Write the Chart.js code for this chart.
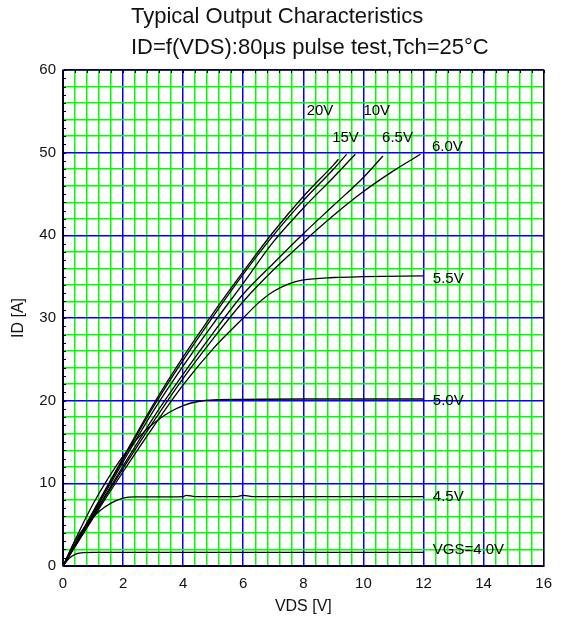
<!DOCTYPE html>
<html>
<head>
<meta charset="utf-8">
<script src="https://cdn.jsdelivr.net/npm/chart.js@4.4.1/dist/chart.umd.min.js"></script>
<style>
  html, body { margin: 0; padding: 0; background: #fff; }
  #wrap { width: 561px; height: 620px; }
</style>
</head>
<body>
<div id="wrap"><canvas id="myChart"></canvas></div>
<script>
// VDS in V, ID in A
const vds20 = [0, 1, 2, 3, 4, 5, 6, 7, 8, 9, 9.17];
const id20  = [0, 6.6, 13.1, 19.5, 25.3, 30.6, 35.6, 40.4, 44.7, 48.5, 49.2];
const vds15 = [0, 1, 2, 3, 4, 5, 6, 7, 8, 9, 9.44];
const id15  = [0, 6.5, 12.9, 19.2, 24.9, 30.2, 35.3, 40.0, 44.2, 48.0, 49.8];
const vds10 = [0, 1, 2, 3, 4, 5, 6, 7, 8, 9, 9.73];
const id10  = [0, 6.3, 12.6, 18.7, 24.2, 29.3, 34.2, 39.2, 43.3, 47.0, 49.8];
const vds65 = [0, 1, 2, 3, 4, 5, 6, 7, 8, 9, 10, 10.65];
const id65  = [0, 6.1, 12.1, 17.9, 23.2, 28.2, 32.9, 36.6, 40.2, 43.6, 47.0, 49.6];
const vds60 = [0, 1, 2, 3, 4, 5, 6, 7, 8, 9, 10, 11, 11.9];
const id60  = [0, 6.0, 11.8, 17.4, 22.7, 27.5, 32.0, 35.8, 39.2, 42.4, 45.3, 47.8, 49.8];
const vds55 = [0, 1, 2, 3, 4, 5, 6, 6.5, 7, 7.5, 8, 9, 10, 12];
const id55  = [0, 5.8, 11.4, 16.8, 21.9, 26.3, 30.0, 31.8, 33.2, 34.1, 34.6, 34.9, 35.0, 35.1];
const vds50 = [0, 0.5, 1, 1.5, 2, 2.5, 3, 3.5, 4, 4.5, 5, 6, 8, 12];
const id50  = [0, 3.9, 7.5, 10.6, 13.3, 15.5, 17.2, 18.5, 19.4, 19.9, 20.1, 20.15, 20.2, 20.2];
const vds45 = [0, 0.4, 0.8, 1.2, 1.6, 2, 2.4, 4, 4.1, 4.4, 5.8, 6, 6.3, 12];
const id45  = [0, 3.0, 5.1, 6.6, 7.6, 8.2, 8.35, 8.4, 8.55, 8.4, 8.4, 8.55, 8.4, 8.4];
const vds40 = [0, 0.2, 0.4, 0.6, 1, 12];
const id40  = [0, 0.9, 1.4, 1.6, 1.65, 1.65];

const curveNames = ['20V', '15V', '10V', '6.5V', '6.0V', '5.5V', '5.0V', '4.5V', 'VGS=4.0V'];
const curveVds = [vds20, vds15, vds10, vds65, vds60, vds55, vds50, vds45, vds40];
const curveId  = [id20, id15, id10, id65, id60, id55, id50, id45, id40];

// where each curve name is written (data coords, left edge / middle)
const labelVds = [8.11, 10.0, 8.96, 10.62, 12.28, 12.31, 12.31, 12.31, 12.31];
const labelId  = [55.1, 55.1, 51.8, 51.8, 50.7, 34.7, 19.95, 8.4, 1.9];
const labelText = ['20V', '10V', '15V', '6.5V', '6.0V', '5.5V', '5.0V', '4.5V', 'VGS=4.0V'];

const titleLines = ['Typical Output Characteristics', 'ID=f(VDS):80\u03bcs pulse test,Tch=25\u00b0C'];

const FONT = '"Liberation Sans", Arial, sans-serif';

function isMultiple(v, step) {
  return Math.abs(v / step - Math.round(v / step)) < 1e-6;
}

const datasets = curveNames.map((name, i) => ({
  label: name,
  data: curveVds[i].map((v, j) => ({ x: v, y: curveId[i][j] })),
  borderColor: '#000',
  borderWidth: 1.3,
  pointRadius: 0,
  fill: false,
  cubicInterpolationMode: 'monotone'
}));

const extras = {
  id: 'extras',
  afterDatasetsDraw(chart) {
    const ctx = chart.ctx;
    const xs = chart.scales.x, ys = chart.scales.y;
    const a = chart.chartArea;
    ctx.save();
    // small inward tick marks on left and top edges
    ctx.strokeStyle = '#000';
    ctx.lineWidth = 1;
    ctx.beginPath();
    for (let v = 0; v <= 60; v += 1) {
      const y = Math.round(ys.getPixelForValue(v)) + 0.5;
      ctx.moveTo(a.left, y); ctx.lineTo(a.left + 3, y);
    }
    for (let k = 0; k <= 40; k++) {
      const x = Math.round(xs.getPixelForValue(k * 0.4)) + 0.5;
      ctx.moveTo(x, a.top); ctx.lineTo(x, a.top + 3);
    }
    ctx.stroke();
    // frame
    ctx.lineWidth = 1.3;
    ctx.strokeRect(a.left, a.top, a.right - a.left, a.bottom - a.top);
    // curve names
    ctx.fillStyle = '#000';
    ctx.font = '15px ' + FONT;
    ctx.textAlign = 'left';
    ctx.textBaseline = 'middle';
    labelText.forEach((t, i) => {
      ctx.fillText(t, xs.getPixelForValue(labelVds[i]), ys.getPixelForValue(labelId[i]));
    });
    // two line heading
    ctx.font = '22px ' + FONT;
    ctx.fillStyle = '#111';
    ctx.fillText(titleLines[0], 131, 17);
    ctx.fillText(titleLines[1], 131, 47.5);
    ctx.restore();
  }
};

const config = {
  type: 'line',
  data: { datasets: datasets },
  options: {
    responsive: true,
    maintainAspectRatio: false,
    animation: false,
    layout: { padding: { left: 0, right: 7, top: 70, bottom: 0 } },
    plugins: {
      legend: { display: false },
      tooltip: { enabled: false }
    },
    scales: {
      x: {
        type: 'linear',
        min: 0,
        max: 16,
        afterFit: (s) => { s.height = 54; },
        ticks: {
          stepSize: 0.4,
          autoSkip: false,
          maxRotation: 0,
          padding: 9,
          color: '#111',
          font: { family: FONT, size: 15 },
          callback: (v) => isMultiple(v, 2) ? String(Math.round(v)) : ''
        },
        grid: {
          drawTicks: false,
          lineWidth: 1.5,
          color: (c) => isMultiple(c.tick.value, 2) ? '#0000ff' : '#00ff00'
        },
        border: { color: '#000' },
        title: {
          display: true,
          text: 'VDS [V]',
          color: '#111',
          font: { family: FONT, size: 16 },
          padding: { top: 0, bottom: 4 }
        }
      },
      y: {
        type: 'linear',
        min: 0,
        max: 60,
        afterFit: (s) => { s.width = 63; },
        ticks: {
          stepSize: 2,
          autoSkip: false,
          padding: 7,
          color: '#111',
          font: { family: FONT, size: 15 },
          callback: (v) => isMultiple(v, 10) ? String(Math.round(v)) : ''
        },
        grid: {
          drawTicks: false,
          lineWidth: 1.5,
          color: (c) => isMultiple(c.tick.value, 10) ? '#0000ff' : '#00ff00'
        },
        border: { color: '#000' },
        title: {
          display: true,
          text: 'ID [A]',
          color: '#111',
          font: { family: FONT, size: 16 },
          padding: { top: 9, bottom: 0 }
        }
      }
    }
  },
  plugins: [extras]
};

function buildChart() {
  const ctx = document.getElementById('myChart').getContext('2d');
  return new Chart(ctx, config);
}

window.addEventListener('load', () => {
  const myChart = buildChart();
});
</script>
</body>
</html>
